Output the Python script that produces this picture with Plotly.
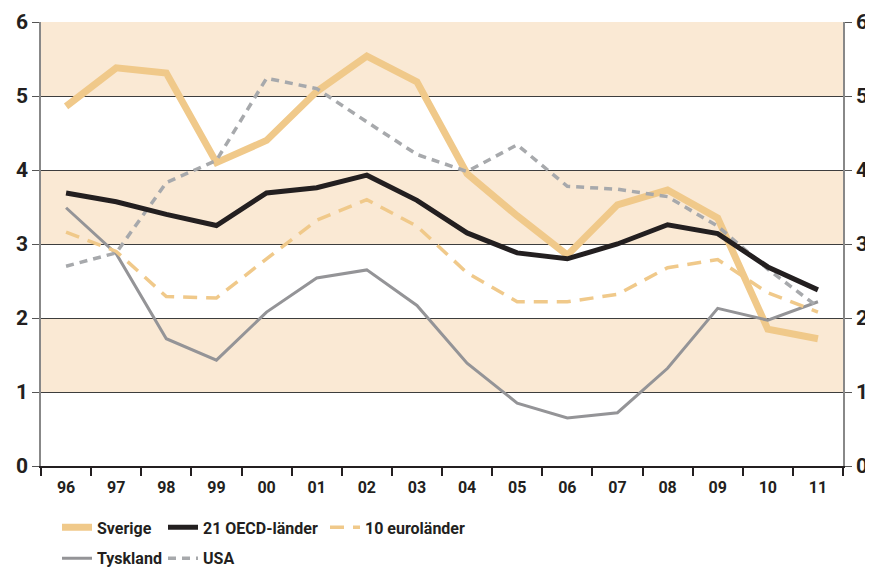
import plotly.graph_objects as go

years = ["96", "97", "98", "99", "00", "01", "02", "03", "04", "05", "06", "07", "08", "09", "10", "11"]
sverige = [4.86, 5.38, 5.31, 4.10, 4.40, 5.06, 5.54, 5.19, 3.95, 3.38, 2.85, 3.53, 3.73, 3.35, 1.85, 1.72]
oecd = [3.69, 3.57, 3.40, 3.25, 3.69, 3.76, 3.93, 3.59, 3.15, 2.88, 2.80, 3.00, 3.26, 3.14, 2.69, 2.38]
euro = [3.16, 2.90, 2.29, 2.27, 2.80, 3.32, 3.60, 3.24, 2.61, 2.22, 2.22, 2.32, 2.68, 2.79, 2.34, 2.08]
tyskland = [3.49, 2.87, 1.72, 1.43, 2.08, 2.54, 2.65, 2.17, 1.39, 0.85, 0.65, 0.72, 1.32, 2.13, 1.97, 2.22]
usa = [2.70, 2.88, 3.83, 4.13, 5.24, 5.10, 4.65, 4.21, 3.98, 4.34, 3.78, 3.74, 3.64, 3.24, 2.66, 2.15]
yticks = [0, 1, 2, 3, 4, 5, 6]
bands = [(1, 2), (3, 4), (5, 6)]

FONT = "Roboto, Liberation Sans, sans-serif"
PEACH = "#F0C98A"
BAND = "#FAE9D4"
W, H = 865, 562

fig = go.Figure()
fig.add_trace(go.Scatter(x=years, y=sverige, name="Sverige", mode="lines",
                         line=dict(color=PEACH, width=7), legend="legend", legendgroup="a"))
fig.add_trace(go.Scatter(x=years, y=tyskland, name="Tyskland", mode="lines",
                         line=dict(color="#949497", width=3), legend="legend", legendgroup="b"))
fig.add_trace(go.Scatter(x=years, y=euro, name="10 euroländer", mode="lines",
                         line=dict(color=PEACH, width=3.5, dash="14px,9px"), legend="legend3"))
fig.add_trace(go.Scatter(x=years, y=usa, name="USA", mode="lines",
                         line=dict(color="#A7A9AC", width=3.5, dash="8px,6px"), legend="legend2", legendgroup="d"))
fig.add_trace(go.Scatter(x=years, y=oecd, name="21 OECD-länder", mode="lines",
                         line=dict(color="#231F20", width=5), legend="legend2", legendgroup="c",
                         legendrank=1))
fig.add_trace(go.Scatter(x=years, y=oecd, yaxis="y2", mode="lines", opacity=0,
                         showlegend=False, hoverinfo="skip"))

for lo, hi in bands:
    fig.add_shape(type="rect", xref="paper", yref="y", x0=0, x1=1, y0=lo, y1=hi,
                  fillcolor=BAND, line=dict(width=0), layer="below")

legfont = dict(size=16, family=FONT, weight="bold", color="#231F20")
legcommon = dict(orientation="v", xref="container", yref="container", yanchor="top",
                 xanchor="left", y=0.106, font=legfont, tracegroupgap=7,
                 bgcolor="rgba(0,0,0,0)", itemwidth=30, traceorder="grouped")

fig.update_layout(
    width=W, height=H,
    margin=dict(l=33, r=30, t=14, b=104, autoexpand=False),
    paper_bgcolor="white", plot_bgcolor="white",
    font=dict(family=FONT, color="#231F20"),
    xaxis=dict(type="category", tickson="boundaries", ticks="outside", ticklen=8,
               tickcolor="#231F20", tickwidth=1.5, showgrid=False, automargin=False,
               showline=True, linecolor="#231F20", linewidth=1.5, tickangle=0,
               ticklabelstandoff=6,
               tickfont=dict(size=16, family=FONT, weight="bold"),
               range=[-0.5, 15.5]),
    yaxis=dict(range=[0, 6], tickvals=yticks, ticks="outside", ticklen=7, automargin=False,
               tickcolor="#555", showgrid=True, gridcolor="#3d3d3d", gridwidth=1,
               showline=True, linecolor="#888", linewidth=1.5, zeroline=False,
               tickfont=dict(size=21, family=FONT, weight="bold")),
    yaxis2=dict(range=[0, 6], tickvals=yticks, overlaying="y", side="right", automargin=False,
                ticks="outside", ticklen=7, tickcolor="#555", showgrid=False,
                showline=True, linecolor="#888", linewidth=1.5, zeroline=False,
                tickfont=dict(size=21, family=FONT, weight="bold")),
    legend=dict(x=49 / W, **legcommon),
    legend2=dict(x=155 / W, **legcommon),
    legend3=dict(x=317 / W, **legcommon),
    showlegend=True,
)

fig.write_html("out.html")
